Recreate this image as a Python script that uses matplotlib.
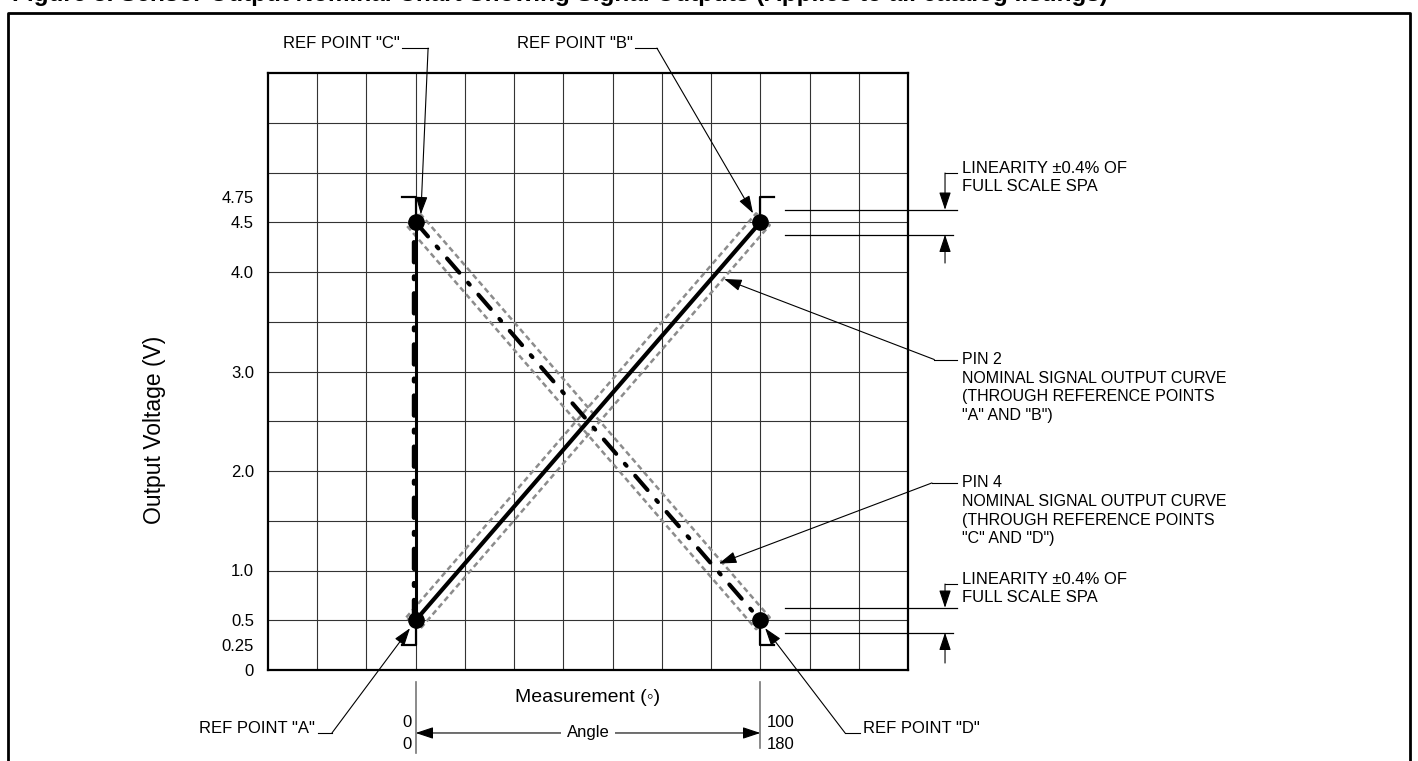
import numpy as np
import matplotlib
matplotlib.use("Agg")
import matplotlib.pyplot as plt
from matplotlib.lines import Line2D

plt.rcParams['font.family'] = ['Liberation Sans', 'DejaVu Sans']

# x in percent of angle span (0 = point A/C, 100 = point B/D), y in volts
x_min, x_max = -300 / 7, 1000 / 7
y_min, y_max = 0, 6
grid_x = np.linspace(x_min, x_max, 14)
grid_y = np.arange(0.5, 6.0, 0.5)
ytick_vals = [0, 0.25, 0.5, 1.0, 2.0, 3.0, 4.0, 4.5, 4.75]
ytick_labels = ["0", "0.25", "0.5", "1.0", "2.0", "3.0", "4.0", "4.5", "4.75"]

pin2_x = [0, 100]
pin2_y = [0.5, 4.5]
pin4_x = [0, 100]
pin4_y = [4.5, 0.5]
vert_x = [0, 0]
vert_y = [0.5, 4.5]
ref_x = [0, 100, 0, 100]
ref_y = [0.5, 4.5, 4.5, 0.5]
bracket_lo, bracket_hi = 0.25, 4.75
lin_band = 0.125

fig = plt.figure(figsize=(14.18, 7.61), dpi=100)
ax = fig.add_axes([268 / 1418, 91 / 761, 640 / 1418, 597 / 761])
ax.set_xlim(x_min, x_max)
ax.set_ylim(y_min, y_max)

for gx in grid_x[1:-1]:
    ax.axvline(gx, color='#333333', lw=0.8, zorder=1)
for gy in grid_y:
    ax.axhline(gy, color='#333333', lw=0.8, zorder=1)
for s in ax.spines.values():
    s.set_linewidth(1.6)

ax.set_xticks([])
ax.set_yticks(ytick_vals)
ax.set_yticklabels(ytick_labels, fontsize=12)
ax.tick_params(axis='y', length=0, pad=10)


def envelope(p0, p1, half=9, ext=4):
    P0 = ax.transData.transform(p0)
    P1 = ax.transData.transform(p1)
    u = (P1 - P0) / np.hypot(*(P1 - P0))
    n = np.array([-u[1], u[0]])
    pts = np.array([P0 - u * ext + n * half, P1 + u * ext + n * half,
                    P1 + u * ext - n * half, P0 - u * ext - n * half,
                    P0 - u * ext + n * half])
    d = ax.transData.inverted().transform(pts)
    ax.plot(d[:, 0], d[:, 1], color='#8c8c8c', lw=1.8, ls=(0, (2.2, 1.4)), zorder=2)


envelope((pin2_x[0], pin2_y[0]), (pin2_x[1], pin2_y[1]))
envelope((pin4_x[0], pin4_y[0]), (pin4_x[1], pin4_y[1]))

ax.plot(pin2_x, pin2_y, color='black', lw=3, zorder=3, solid_capstyle='butt')
ax.plot(pin4_x, pin4_y, color='black', lw=3, zorder=3,
        ls=(0, (4.5, 3.2, 0.6, 3.2)), dash_capstyle='round')
ax.plot(vert_x, vert_y, color='black', lw=2.2, zorder=3)
ax.plot([v - 0.4 for v in vert_x], vert_y, color='black', lw=3.2, zorder=3,
        ls=(0, (4.5, 3.2, 0.6, 3.2)), dash_capstyle='round')
ax.plot(ref_x, ref_y, 'o', color='black', ms=11, zorder=4)

# corner brackets at 0.25 and 4.75
bk = dict(color='black', lw=1.6, clip_on=False, zorder=4)
ax.plot([-4, 0, 0], [bracket_hi, bracket_hi, 4.5], **bk)
ax.plot([104, 100, 100], [bracket_hi, bracket_hi, 4.5], **bk)
ax.plot([-4, 0, 0], [bracket_lo, bracket_lo, 0.5], **bk)
ax.plot([104, 100, 100], [bracket_lo, bracket_lo, 0.5], **bk)

arrow = dict(arrowstyle='-|>,head_length=0.9,head_width=0.3', color='black',
             lw=0.8, mutation_scale=12, shrinkA=0, shrinkB=0)
fs = 12

# linearity bands
for yc, ytxt, ycorner, ylow in [(4.5, 4.95, 4.995, 4.09), (0.5, 0.82, 0.864, 0.07)]:
    ax.plot([107.2, 157.1], [yc + lin_band] * 2, color='black', lw=0.9, clip_on=False)
    ax.plot([107.2, 155.9], [yc - lin_band] * 2, color='black', lw=0.9, clip_on=False)
    ax.plot([153.6, 157.1], [ycorner, ycorner], color='black', lw=0.8, clip_on=False)
    ax.annotate('', xy=(153.6, yc + lin_band), xytext=(153.6, ycorner),
                arrowprops=arrow, annotation_clip=False)
    ax.annotate('', xy=(153.6, yc - lin_band), xytext=(153.6, ylow),
                arrowprops=arrow, annotation_clip=False)
    ax.text(158.5, ytxt, "LINEARITY \u00b10.4% OF\nFULL SCALE SPA", fontsize=fs,
            ha='left', va='center', linespacing=1.25)

# pin callouts
ax.text(158.5, 2.84, 'PIN 2\nNOMINAL SIGNAL OUTPUT CURVE\n(THROUGH REFERENCE POINTS\n"A" AND "B")',
        fontsize=11.5, ha='left', va='center', linespacing=1.3)
ax.plot([150.5, 157.1], [3.12, 3.12], color='black', lw=0.8, clip_on=False)
ax.annotate('', xy=(89.5, 3.93), xytext=(150.5, 3.12), arrowprops=arrow, annotation_clip=False)

ax.text(158.5, 1.60, 'PIN 4\nNOMINAL SIGNAL OUTPUT CURVE\n(THROUGH REFERENCE POINTS\n"C" AND "D")',
        fontsize=11.5, ha='left', va='center', linespacing=1.3)
ax.plot([149.8, 157.1], [1.88, 1.88], color='black', lw=0.8, clip_on=False)
ax.annotate('', xy=(88, 1.07), xytext=(149.8, 1.88), arrowprops=arrow, annotation_clip=False)

# reference point callouts
refs = [('REF POINT "C"', 'right', -4.6, 6.30, (-4.0, 3.6), 6.25, (1.5, 4.58)),
        ('REF POINT "B"', 'right', 63.0, 6.30, (63.6, 70.0), 6.25, (97.9, 4.59)),
        ('REF POINT "A"', 'right', -29.2, -0.583, (-28.3, -24.3), -0.633, (-1.65, 0.42)),
        ('REF POINT "D"', 'left', 129.8, -0.583, (128.9, 124.6), -0.633, (101.4, 0.42))]
for label, ha, tx, ty, (u0, u1), uy, tip in refs:
    ax.text(tx, ty, label, fontsize=fs, ha=ha, va='center')
    ax.plot([u0, u1], [uy, uy], color='black', lw=0.8, clip_on=False)
    ax.annotate('', xy=tip, xytext=(u1, uy), arrowprops=arrow, annotation_clip=False)

# angle dimension
ax.plot([0, 0], [-0.12, -0.834], color='#777777', lw=1.2, clip_on=False)
ax.plot([100, 100], [-0.12, -0.78], color='#777777', lw=1.2, clip_on=False)
ax.annotate('', xy=(0, -0.633), xytext=(50, -0.633), arrowprops=arrow, annotation_clip=False)
ax.annotate('', xy=(100, -0.633), xytext=(50, -0.633), arrowprops=arrow, annotation_clip=False)
ax.text(50, -0.633, 'Angle', fontsize=fs, ha='center', va='center',
        bbox=dict(facecolor='white', edgecolor='none', pad=4))
ax.text(-1.2, -0.53, '0', fontsize=fs, ha='right', va='center')
ax.text(-1.2, -0.75, '0', fontsize=fs, ha='right', va='center')
ax.text(102, -0.53, '100', fontsize=fs, ha='left', va='center')
ax.text(102, -0.75, '180', fontsize=fs, ha='left', va='center')

ax.text(50, -0.28, 'Measurement (\u25e6)', fontsize=14, ha='center', va='center')
ax.text(-75.7, 2.41, 'Output Voltage (V)', fontsize=16.5, ha='center', va='center', rotation=90)

# outer frame and clipped caption
fx0, fx1, fy1 = 8 / 1418, 1410 / 1418, 1 - 13 / 761
fig.add_artist(Line2D([fx0, fx0, fx1, fx1], [0, fy1, fy1, 0], color='black', lw=2))
fig.text(12 / 1418, 1 - 0.5 / 761,
         'Figure 3. Sensor Output Nominal Chart Showing Signal Outputs (Applies to all catalog listings)',
         fontsize=17.5, fontweight='bold', ha='left', va='baseline')

fig.savefig('out.png', dpi=100)
